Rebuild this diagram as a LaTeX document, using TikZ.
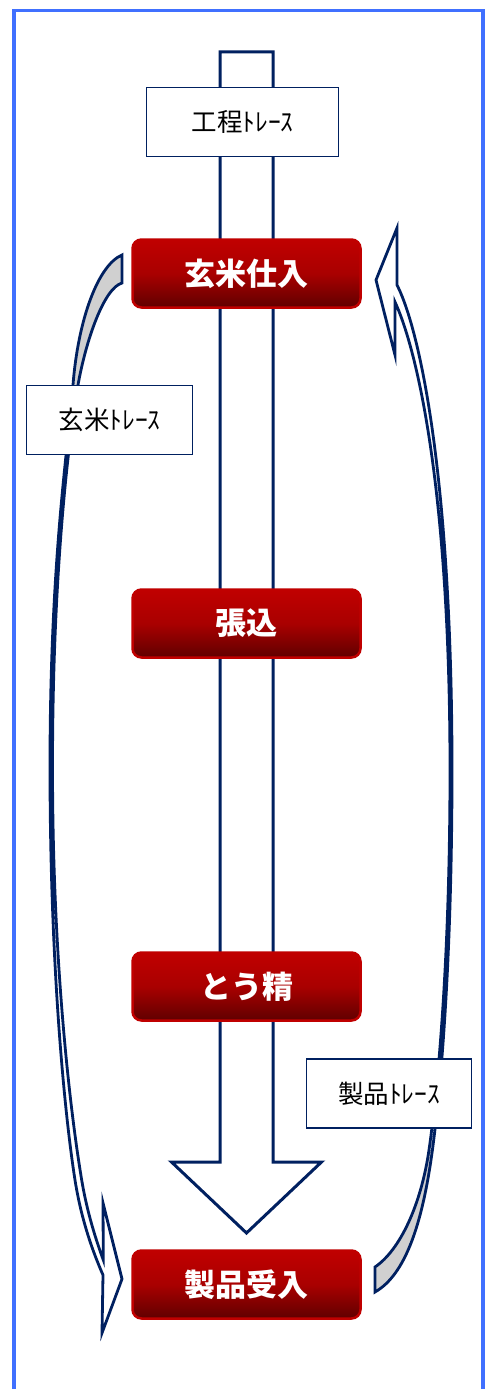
\documentclass[tikz,border=0pt]{standalone}
\usepackage{fontspec}
\usepackage{tikz}
\newfontfamily\jpfont{Noto Sans CJK JP}
\usetikzlibrary{positioning}

\definecolor{navy}{RGB}{0,32,96}
\definecolor{frameblue}{RGB}{64,112,255}
\definecolor{boxred}{RGB}{192,0,0}
\definecolor{boxdark}{RGB}{96,0,0}
\definecolor{tailgray}{RGB}{208,208,208}

\newcommand{\genmaiarc}{(122,255) .. controls (98,265) and (78,320) .. (73,385)
        .. controls (68,450) and (50,560) .. (50,767)
        .. controls (50,960) and (64,1110) .. (75,1180)
        .. controls (81,1218) and (92,1250) .. (103,1275)
        -- (102,1333) -- (122,1279) -- (103,1203) -- (103.3,1260)
        .. controls (96,1240) and (87,1212) .. (81.7,1180)
        .. controls (70,1110) and (52.5,960) .. (52.5,767)
        .. controls (52.5,560) and (71,425) .. (78,385)
        .. controls (86,340) and (104,288) .. (122,283) -- cycle}
\newcommand{\seihinarc}{(375,1267) .. controls (400,1250) and (421,1205) .. (429,1150)
        .. controls (439,1080) and (450,950) .. (450,770)
        .. controls (450,480) and (415,345) .. (395,302)
        -- (395,355) -- (376,280) -- (397,228) -- (397,285)
        .. controls (420,330) and (452,480) .. (452,770)
        .. controls (452,950) and (442,1080) .. (432,1153)
        .. controls (422,1225) and (405,1275) .. (375,1292) -- cycle}

\begin{document}
\begin{tikzpicture}[x=1pt, y=-1pt,
        stepnode/.style={rectangle, rounded corners=9pt, draw=boxred, line width=2.5pt, top color=boxred, bottom color=boxdark, middle color=boxred!88!black, minimum width=228pt, minimum height=68pt, text=white, font=\jpfont\bfseries\fontsize{31}{32}\selectfont},
        tracenode/.style={rectangle, draw=navy, line width=1.3pt, fill=white, minimum height=69pt, font=\jpfont\fontsize{25.5}{27}\selectfont},
        blockarrow/.style={draw=navy, line width=3pt, fill=white, line join=miter},
        curvedarrow/.style={draw=navy, line width=2.8pt, line join=miter},
]
        \useasboundingbox (0,0) rectangle (485,1389);
        \fill[white] (0,0) rectangle (485,1389);
        \draw[frameblue, line width=3.5pt] (14,1400) -- (14,10.3) -- (483,10.3) -- (483,1400);

        \draw[blockarrow] (220,52) -- (273,52) -- (273,1162) -- (321.5,1162) -- (246.5,1233) -- (171.5,1162) -- (220,1162) -- cycle;

        \fill[white] \genmaiarc;
        \begin{scope}
                \clip (0,0) rectangle (485,390);
                \fill[tailgray] \genmaiarc;
        \end{scope}
        \draw[curvedarrow] \genmaiarc;

        \fill[white] \seihinarc;
        \begin{scope}
                \clip (0,1150) rectangle (485,1389);
                \fill[tailgray] \seihinarc;
        \end{scope}
        \draw[curvedarrow] \seihinarc;

        \node[stepnode] (genmai) at (246.5,273.5) {玄米仕入};
        \node[stepnode] (harikomi) [below=279.5pt of genmai] {張込};
        \node[stepnode] (tousei) [below=292.5pt of harikomi] {とう精};
        \node[stepnode] (seihin) [below=227.5pt of tousei] {製品受入};

        \node[tracenode, minimum width=192pt] (kouteitrace) at (242.5,122) {工程ﾄﾚｰｽ};
        \node[tracenode, minimum width=166pt] (genmaitrace) at (109.5,420) {玄米ﾄﾚｰｽ};
        \node[tracenode, minimum width=165pt] (seihintrace) at (389,1093.5) {製品ﾄﾚｰｽ};
\end{tikzpicture}
\end{document}
